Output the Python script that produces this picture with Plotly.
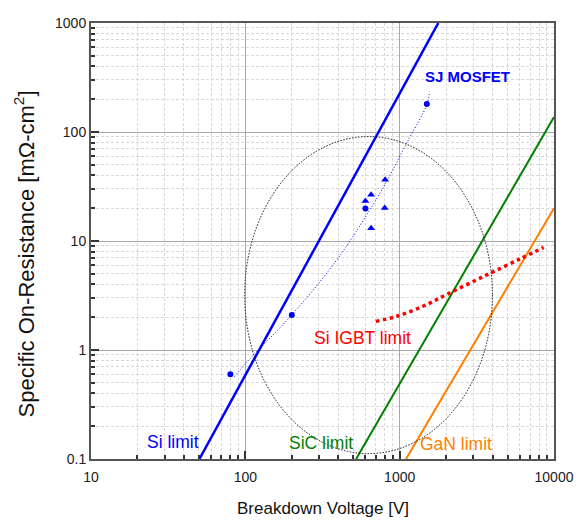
import plotly.graph_objects as go

# ---- data ----
si_x = [50.4, 1780]
si_y = [0.1, 1000]
sic_x = [522, 10000]
sic_y = [0.1, 137]
gan_x = [1099, 10000]
gan_y = [0.1, 20]
igbt_x = [700, 959, 1416, 2040, 3575, 6110, 8570]
igbt_y = [1.83, 2.04, 2.52, 3.26, 4.80, 6.92, 8.73]
sj_circle_x = [80, 200, 600, 1500]
sj_circle_y = [0.6, 2.1, 19.9, 181]
sj_tri_x = [600, 653, 805, 800, 653]
sj_tri_y = [23.3, 26.5, 36.4, 20.1, 13.1]
fit_x = [85, 107, 200, 399, 789, 1109, 1507, 1560]
fit_y = [0.57, 0.83, 2.1, 6.97, 31.6, 78.9, 181, 234]
ellipse_x = [99, 3990]
ellipse_y = [0.112, 90.8]
x_ticks = [10, 100, 1000, 10000]
y_ticks = [0.1, 1, 10, 100, 1000]

BLUE = "#0000ff"
fig = go.Figure()
fig.add_trace(go.Scatter(x=fit_x, y=fit_y, mode="lines", line=dict(color=BLUE, width=1, dash="1px,2px", shape="spline")))
fig.add_trace(go.Scatter(x=si_x, y=si_y, mode="lines", line=dict(color=BLUE, width=2.5)))
fig.add_trace(go.Scatter(x=sic_x, y=sic_y, mode="lines", line=dict(color="#008000", width=2)))
fig.add_trace(go.Scatter(x=gan_x, y=gan_y, mode="lines", line=dict(color="#ff8000", width=2)))
fig.add_trace(go.Scatter(x=igbt_x, y=igbt_y, mode="lines", line=dict(color="#ff0000", width=3.5, dash="3.5px,3.5px", shape="spline")))
fig.add_trace(go.Scatter(x=sj_circle_x, y=sj_circle_y, mode="markers", marker=dict(color=BLUE, size=6, symbol="circle")))
fig.add_trace(go.Scatter(x=sj_tri_x, y=sj_tri_y, mode="markers", marker=dict(color=BLUE, size=7, symbol="triangle-up")))

fig.add_shape(type="circle", xref="x", yref="y", x0=ellipse_x[0], x1=ellipse_x[1], y0=ellipse_y[0], y1=ellipse_y[1],
              line=dict(color="#111111", width=1, dash="1.5px,1.5px"))

font = "Arial, Liberation Sans, sans-serif"

# page pixel -> paper coords (plot area spans 91..564 px, 23..459 px of the page)
def px(xp, yp):
    return (xp - 91) / 473, (459 - yp) / 436

def label(text, pos, color, size=17.5, angle=0):
    fig.add_annotation(x=pos[0], y=pos[1], xref="paper", yref="paper", text=text, textangle=angle,
                       showarrow=False, xanchor="center", yanchor="middle",
                       font=dict(color=color, size=size, family=font))

label("<b>SJ MOSFET</b>", px(476, 76), BLUE, 15)
label("Si limit", px(175, 442), BLUE)
label("SiC limit", px(326, 443), "#008000")
label("GaN limit", px(464, 444), "#ff8000")
label("Si IGBT limit", px(368, 338), "#ff0000")
label("Breakdown Voltage [V]", px(328, 508), "#111111", 17)
label("Specific On-Resistance [mΩ-cm<sup>2</sup>]", px(23, 254), "#111111", 22, angle=-90)

axis_common = dict(
    type="log", showline=True, linecolor="#555555", linewidth=2, mirror=True,
    ticks="inside", ticklen=8, tickcolor="#333333", tickwidth=1.5,
    showgrid=True, gridcolor="#a8a8a8", gridwidth=1,
    exponentformat="none", zeroline=False,
    tickfont=dict(size=14, color="#222222", family=font),
    minor=dict(dtick="D1", ticks="inside", ticklen=4, tickcolor="#333333", showgrid=True,
               gridcolor="#d8d8d8", griddash="3px,2px", gridwidth=1),
)
fig.update_xaxes(range=[1, 4], tickvals=x_ticks, ticktext=[str(v) for v in x_ticks],
                 ticklabelstandoff=4, **axis_common)
fig.update_yaxes(range=[-1, 3], tickvals=y_ticks, ticktext=[str(v) for v in y_ticks],
                 **axis_common)
fig.update_layout(width=586, height=525, margin=dict(l=91, r=22, t=23, b=66),
                  plot_bgcolor="white", paper_bgcolor="white", showlegend=False,
                  font=dict(family=font))
# remove the default page margin so the figure sits at the window's top-left corner
fig.write_html("out.html", config={"displayModeBar": False},
               post_script="document.body.style.margin='0';document.documentElement.style.overflow='hidden';")
